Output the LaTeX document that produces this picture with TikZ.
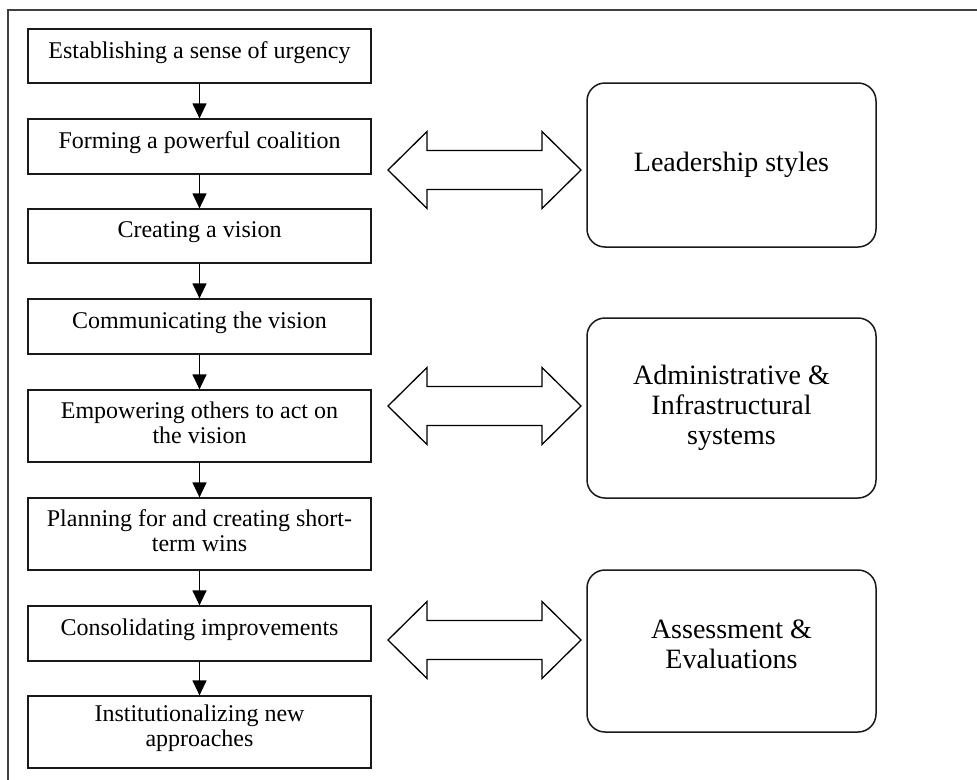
\documentclass[tikz,border=0pt]{standalone}
\usepackage{fontspec}
\setmainfont{Liberation Serif}
\usetikzlibrary{arrows.meta,calc}
\begin{document}
\begin{tikzpicture}[x=1pt,y=-1pt,
  stepbox/.style={draw=black!90, line width=1.2pt, minimum width=343pt, inner sep=0pt},
  steptext/.style={font=\fontsize{24}{25}\selectfont, align=center, inner sep=0pt, yshift=3.5pt},
  areabox/.style={draw=black!90, line width=1.5pt, rounded corners=18pt, minimum width=289pt, inner sep=0pt},
  areatext/.style={font=\fontsize{28}{30}\selectfont, align=center, inner sep=0pt},
  flow/.style={line width=1.2pt, -{Triangle[length=15pt,width=14pt]}},
  blockarrow/.style={draw=black, line width=1.3pt, fill=white, line join=miter},
  frameline/.style={draw=black!75, line width=2pt},
  dblarrow/.pic={\draw[blockarrow] (-96.5,0) -- (-57.5,-38.5) -- (-57.5,-19.5) -- (57.5,-19.5) -- (57.5,-38.5) -- (96.5,0) -- (57.5,38.5) -- (57.5,19.5) -- (-57.5,19.5) -- (-57.5,38.5) -- cycle;}]
\useasboundingbox (0,0) rectangle (977,779);
\draw[frameline] (8,781) -- (8,10) -- (979,10);

% left column of steps
\node[stepbox, minimum height=54pt] (b1) at (199.5,56) {};
\node[steptext] (t1) at (b1) {Establishing a sense of urgency};
\node[stepbox, minimum height=55pt] (b2) at (199.5,146.5) {};
\node[steptext] (t2) at (b2) {Forming a powerful coalition};
\node[stepbox, minimum height=54pt] (b3) at (199.5,236) {};
\node[steptext] (t3) at (b3) {Creating a vision};
\node[stepbox, minimum height=55pt] (b4) at (199.5,326.5) {};
\node[steptext] (t4) at (b4) {Communicating the vision};
\node[stepbox, minimum height=72pt] (b5) at (199.5,426) {};
\node[steptext] (t5) at (b5) {Empowering others to act on\\the vision};
\node[stepbox, minimum height=72pt] (b6) at (199.5,534) {};
\node[steptext] (t6) at (b6) {Planning for and creating short-\\term wins};
\node[stepbox, minimum height=55pt] (b7) at (199.5,633.5) {};
\node[steptext] (t7) at (b7) {Consolidating improvements};
\node[stepbox, minimum height=72pt] (b8) at (199.5,732) {};
\node[steptext] (t8) at (b8) {Institutionalizing new\\approaches};

\draw[flow] (b1.south) -- (b2.north);
\draw[flow] (b2.south) -- (b3.north);
\draw[flow] (b3.south) -- (b4.north);
\draw[flow] (b4.south) -- (b5.north);
\draw[flow] (b5.south) -- (b6.north);
\draw[flow] (b6.south) -- (b7.north);
\draw[flow] (b7.south) -- (b8.north);

% right column
\node[areabox, minimum height=164pt] (r1) at (731.5,165) {};
\node[areatext] (s1) at (r1) {Leadership styles};
\node[areabox, minimum height=180pt] (r2) at (731.5,408) {};
\node[areatext] (s2) at (r2) {Administrative \&\\Infrastructural\\systems};
\node[areabox, minimum height=162pt] (r3) at (731.5,651) {};
\node[areatext, yshift=7pt] (s3) at (r3) {Assessment \&\\Evaluations};

% double block arrows
\pic (da1) at (484.5,170) {dblarrow};
\pic (da2) at (484.5,406) {dblarrow};
\pic (da3) at (484.5,640) {dblarrow};
\end{tikzpicture}
\end{document}
